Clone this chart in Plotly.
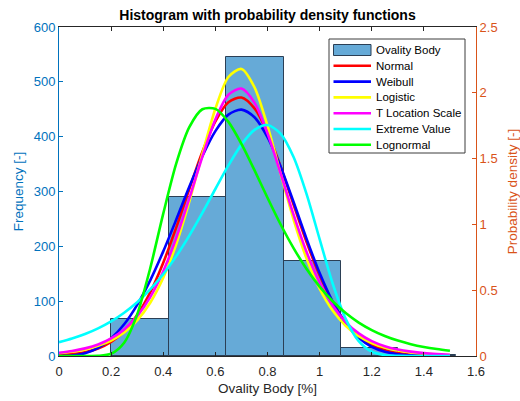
import plotly.graph_objects as go

# Histogram data
bin_edges = [0.2, 0.4205, 0.641, 0.8615, 1.082, 1.3025, 1.523]
counts = [68, 290, 546, 173, 14, 2]
hist_name = "Ovality Body"

# PDF curves (density)
x_pdf = [0.00, 0.05, 0.10, 0.15, 0.20, 0.25, 0.30, 0.35, 0.40, 0.45, 0.50,
         0.55, 0.60, 0.65, 0.70, 0.75, 0.80, 0.85, 0.90, 0.95, 1.00,
         1.05, 1.10, 1.15, 1.20, 1.25, 1.30, 1.35, 1.40, 1.45, 1.50]
normal = [0.006, 0.014, 0.029, 0.057, 0.107, 0.188, 0.311, 0.483, 0.709, 0.977, 1.269,
          1.550, 1.782, 1.928, 1.964, 1.882, 1.698, 1.441, 1.151, 0.866, 0.613,
          0.408, 0.256, 0.151, 0.084, 0.044, 0.022, 0.010, 0.004, 0.002, 0.001]
weibull = [0.000, 0.003, 0.021, 0.062, 0.133, 0.241, 0.389, 0.575, 0.795, 1.037, 1.286,
           1.518, 1.709, 1.834, 1.872, 1.814, 1.664, 1.440, 1.170, 0.890, 0.630,
           0.413, 0.249, 0.138, 0.069, 0.032, 0.013, 0.005, 0.002, 0.000, 0.000]
logistic = [0.021, 0.032, 0.050, 0.077, 0.117, 0.179, 0.271, 0.405, 0.595, 0.851, 1.173,
            1.535, 1.879, 2.120, 2.181, 2.042, 1.749, 1.388, 1.037, 0.740, 0.511,
            0.345, 0.230, 0.151, 0.099, 0.064, 0.042, 0.027, 0.018, 0.011, 0.007]
tlocation = [0.025, 0.038, 0.058, 0.088, 0.134, 0.202, 0.303, 0.447, 0.644, 0.898, 1.198,
             1.514, 1.797, 1.985, 2.032, 1.925, 1.692, 1.389, 1.074, 0.790, 0.559,
             0.384, 0.258, 0.172, 0.113, 0.074, 0.049, 0.033, 0.022, 0.015, 0.010]
extreme = [0.105, 0.133, 0.167, 0.210, 0.263, 0.329, 0.409, 0.507, 0.622, 0.759, 0.915,
           1.087, 1.269, 1.448, 1.606, 1.718, 1.755, 1.690, 1.512, 1.230, 0.888,
           0.551, 0.282, 0.113, 0.033, 0.007, 0.001, 0.000, 0.000, 0.000, 0.000]
lognormal = [0.000, 0.000, 0.000, 0.001, 0.017, 0.101, 0.316, 0.667, 1.082, 1.464, 1.739,
             1.875, 1.878, 1.779, 1.612, 1.412, 1.202, 1.001, 0.820, 0.661, 0.527,
             0.416, 0.326, 0.254, 0.197, 0.152, 0.117, 0.090, 0.069, 0.053, 0.040]

series_names = ["Normal", "Weibull", "Logistic", "T Location Scale", "Extreme Value", "Lognormal"]
series_values = [normal, weibull, logistic, tlocation, extreme, lognormal]
series_colors = ["#FF0000", "#0000FF", "#FFFF00", "#FF00FF", "#00FFFF", "#00FF00"]

BLUE = "#0072BD"
ORANGE = "#D95319"
DARK = "#262626"
BAR_FILL = "rgba(0,114,189,0.6)"
BAR_EDGE = "#2b3f55"
FONT = "Liberation Sans, Arial, sans-serif"

# plot-area geometry in pixels (for legend placement)
W, H = 520, 401
L, R, T, B = 59, 44, 27, 45
PW, PH = W - L - R, H - T - B


def px_x(p):
    return (p - L) / PW


def px_y(p):
    return (H - B - p) / PH


centers = [(bin_edges[i] + bin_edges[i + 1]) / 2 for i in range(len(counts))]
widths = [bin_edges[i + 1] - bin_edges[i] for i in range(len(counts))]

fig = go.Figure()
fig.add_trace(go.Bar(
    x=centers, y=counts, width=widths, name=hist_name,
    marker=dict(color=BAR_FILL, line=dict(color=BAR_EDGE, width=1)),
    yaxis="y", showlegend=False,
))
for name, vals, col in zip(series_names, series_values, series_colors):
    fig.add_trace(go.Scatter(
        x=x_pdf, y=vals, mode="lines", name=name,
        line=dict(color=col, width=2.6, shape="spline", smoothing=0.8),
        yaxis="y2", showlegend=False,
    ))

# Manual legend (MATLAB-style compact box)
shapes = []
annotations = []
box_l, box_r, box_t, box_b = 329, 465, 39, 153
shapes.append(dict(type="rect", xref="paper", yref="paper", layer="above",
                   x0=px_x(box_l), x1=px_x(box_r), y0=px_y(box_b), y1=px_y(box_t),
                   fillcolor="white", line=dict(color="#3c3c3c", width=1)))
entry_y0, entry_dy = 50, 15.8
sample_l, sample_r, text_x = 333.5, 371, 374
labels = [hist_name] + series_names
for i, lab in enumerate(labels):
    yc = entry_y0 + i * entry_dy
    if i == 0:
        shapes.append(dict(type="rect", xref="paper", yref="paper", layer="above",
                           x0=px_x(sample_l), x1=px_x(sample_r),
                           y0=px_y(yc + 5.5), y1=px_y(yc - 5.5),
                           fillcolor=BAR_FILL, line=dict(color=BAR_EDGE, width=1)))
    else:
        shapes.append(dict(type="line", xref="paper", yref="paper", layer="above",
                           x0=px_x(sample_l), x1=px_x(sample_r),
                           y0=px_y(yc), y1=px_y(yc),
                           line=dict(color=series_colors[i - 1], width=2.6)))
    annotations.append(dict(text=lab, xref="paper", yref="paper",
                            x=px_x(text_x), y=px_y(yc), xanchor="left", yanchor="middle",
                            showarrow=False, font=dict(size=11.5, color="#000000")))

fig.update_layout(
    width=W, height=H,
    margin=dict(l=L, r=R, t=T, b=B),
    paper_bgcolor="white", plot_bgcolor="white",
    font=dict(family=FONT, size=13, color=DARK),
    bargap=0,
    showlegend=False,
    shapes=shapes,
    annotations=annotations,
    title=dict(text="<b>Histogram with probability density functions</b>",
               x=(59 + 476) / 2 / W, xanchor="center", y=1 - 15 / H, yanchor="middle",
               font=dict(size=14, color="#000000")),
    xaxis=dict(range=[0, 1.6], tickvals=[0, 0.2, 0.4, 0.6, 0.8, 1, 1.2, 1.4, 1.6],
               ticktext=["0", "0.2", "0.4", "0.6", "0.8", "1", "1.2", "1.4", "1.6"],
               ticks="inside", ticklen=4, tickcolor=DARK, showline=True, linecolor=DARK,
               linewidth=1, mirror="ticks", showgrid=False, zeroline=False,
               ticklabelstandoff=3, automargin=False,
               title=dict(text="Ovality Body [%]", font=dict(size=13.5, color=DARK), standoff=5),
               tickfont=dict(size=13, color=DARK)),
    yaxis=dict(range=[0, 600], tickvals=[0, 100, 200, 300, 400, 500, 600],
               ticks="inside", ticklen=4, tickcolor=BLUE, showline=True, linecolor=BLUE,
               linewidth=1, showgrid=False, zeroline=False, automargin=False,
               title=dict(text="Frequency [-]", font=dict(size=13.5, color=BLUE), standoff=6),
               tickfont=dict(size=13, color=BLUE)),
    yaxis2=dict(range=[0, 2.5], tickvals=[0, 0.5, 1, 1.5, 2, 2.5],
                ticktext=["0", "0.5", "1", "1.5", "2", "2.5"],
                overlaying="y", side="right",
                ticks="inside", ticklen=4, tickcolor=ORANGE, showline=True, linecolor=ORANGE,
                linewidth=1, showgrid=False, zeroline=False, automargin=False,
                title=dict(text="Probability density [-]", font=dict(size=13.5, color=ORANGE), standoff=10),
                tickfont=dict(size=13, color=ORANGE)),
)

fig.write_html("out.html")
